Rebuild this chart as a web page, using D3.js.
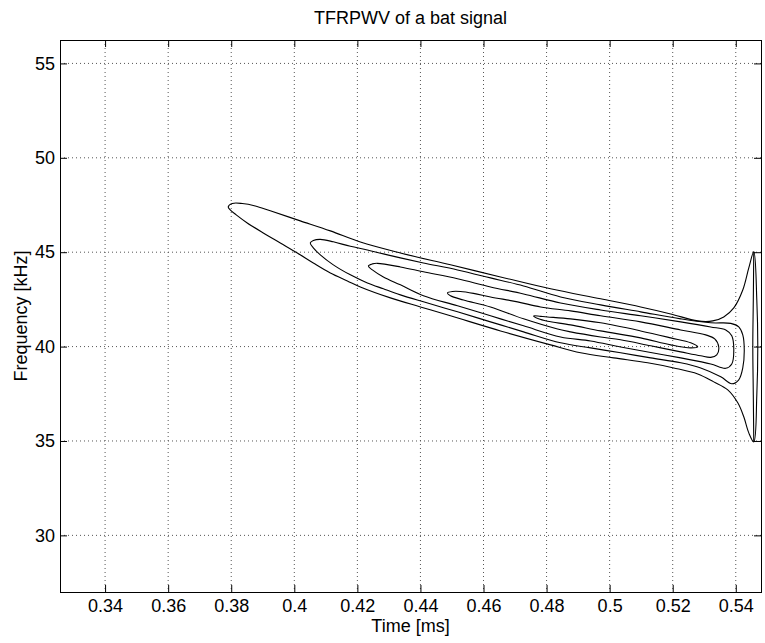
<!DOCTYPE html>
<html>
<head>
<meta charset="utf-8">
<script src="https://cdn.jsdelivr.net/npm/d3@7"></script>
<style>
  body { margin: 0; background: #fff; }
  svg { font-family: "Liberation Sans", Arial, sans-serif; }
  .grid line { stroke: #555; stroke-width: 1; stroke-dasharray: 1,3; }
  .axis text { font-size: 18px; fill: #000; }
  .axis line { stroke: #000; }
  .contour { fill: none; stroke: #000; stroke-width: 1.1; }
</style>
</head>
<body>
<svg id="chart" width="765" height="643"></svg>
<script>
// tick values
var xTicks = [0.34, 0.36, 0.38, 0.4, 0.42, 0.44, 0.46, 0.48, 0.5, 0.52, 0.54];
var yTicks = [30, 35, 40, 45, 50, 55];

// contour lines, [time ms, frequency kHz]
var contourA = [
    [0.37905, 47.40],
    [0.38032, 47.58], [0.38349, 47.58], [0.38762, 47.45], [0.39238, 47.19], [0.40190, 46.66],
    [0.41143, 46.13], [0.42095, 45.54], [0.43365, 44.96], [0.44952, 44.33], [0.46540, 43.69],
    [0.48127, 43.06], [0.49714, 42.53], [0.50984, 42.10], [0.51937, 41.73], [0.52794, 41.36],
    [0.53270, 41.36], [0.53619, 41.57], [0.53937, 42.05], [0.54222, 43.00], [0.54413, 44.17],
    [0.54571, 45.02],
    [0.54667, 42.47], [0.54698, 40.04], [0.54667, 37.44], [0.54571, 34.95],
    [0.54413, 35.43], [0.54254, 36.28], [0.54064, 37.02], [0.53746, 37.71], [0.53302, 38.13],
    [0.52794, 38.55], [0.52032, 38.87], [0.51206, 39.14], [0.50127, 39.40], [0.49079, 39.67],
    [0.48127, 40.09], [0.46540, 40.83], [0.44952, 41.63], [0.44000, 42.10], [0.43048, 42.58],
    [0.42095, 43.16], [0.41683, 43.48], [0.41143, 43.90], [0.40603, 44.43], [0.40095, 44.96],
    [0.39556, 45.49], [0.39016, 46.02], [0.38508, 46.55], [0.38159, 46.98], [0.37968, 47.24]
];
var contourB = [
    [0.40508, 45.49],
    [0.40603, 45.62], [0.40825, 45.68], [0.41238, 45.55], [0.41778, 45.31], [0.42318, 45.12],
    [0.42825, 44.91], [0.43365, 44.70], [0.44095, 44.43], [0.45175, 44.06], [0.46222, 43.64],
    [0.47270, 43.21], [0.48444, 42.63], [0.49714, 42.21], [0.50984, 41.84], [0.52254, 41.47],
    [0.53206, 41.26], [0.53841, 41.23], [0.54095, 41.04], [0.54222, 40.62], [0.54269, 39.83],
    [0.54222, 38.87], [0.54095, 38.24], [0.53873, 38.03], [0.53524, 38.40], [0.52889, 38.87],
    [0.52254, 39.14], [0.51302, 39.40], [0.50349, 39.67], [0.49397, 39.93], [0.48444, 40.20],
    [0.47270, 40.78], [0.46222, 41.31], [0.45175, 41.84], [0.44095, 42.37], [0.43365, 42.74],
    [0.42825, 43.06], [0.42318, 43.37], [0.41778, 43.80], [0.41238, 44.33], [0.40825, 44.86],
    [0.40603, 45.23]
];
var contourC = [
    [0.42349, 44.27],
    [0.42476, 44.38], [0.42635, 44.41], [0.43365, 44.22], [0.44095, 43.96], [0.45175, 43.59],
    [0.46222, 43.16], [0.47270, 42.79], [0.48444, 42.31], [0.49714, 41.94], [0.50984, 41.63],
    [0.52254, 41.31], [0.53206, 41.04], [0.53683, 40.88], [0.53873, 40.57], [0.53937, 39.83],
    [0.53873, 39.08], [0.53683, 38.85], [0.53206, 39.08], [0.52254, 39.40], [0.51302, 39.69],
    [0.50349, 39.98], [0.49397, 40.30], [0.48444, 40.51], [0.47270, 41.10], [0.46222, 41.63],
    [0.45175, 42.16], [0.44095, 42.69], [0.43365, 43.27], [0.42825, 43.69], [0.42476, 44.06]
];
var contourD = [
    [0.44857, 42.84],
    [0.45016, 42.92], [0.45270, 42.92], [0.45683, 42.82], [0.46222, 42.63], [0.47079, 42.37],
    [0.47810, 42.10], [0.48762, 41.89], [0.49714, 41.63], [0.50984, 41.31], [0.52254, 40.88],
    [0.53048, 40.62], [0.53333, 40.41], [0.53460, 39.98], [0.53397, 39.56], [0.53206, 39.43],
    [0.52889, 39.51], [0.52254, 39.72], [0.51302, 40.04], [0.50349, 40.36], [0.49714, 40.51],
    [0.48762, 40.78], [0.48349, 40.93], [0.47270, 41.47], [0.46222, 42.10], [0.45365, 42.47],
    [0.44952, 42.69]
];
var contourE = [
    [0.47587, 41.63],
    [0.47810, 41.60], [0.48032, 41.57], [0.48762, 41.47], [0.49714, 41.26], [0.50984, 40.83],
    [0.51937, 40.46], [0.52571, 40.20], [0.52794, 39.98], [0.52571, 39.93], [0.51937, 40.09],
    [0.50984, 40.46], [0.49714, 40.83], [0.48762, 41.15], [0.48032, 41.34], [0.47746, 41.47]
];
var lensLine = [[0.54571, 45.02], [0.54556, 42.47], [0.54540, 40.04], [0.54556, 37.44], [0.54571, 34.95]];

var margin = {top: 40, right: 4, bottom: 51, left: 60},
    width = 765 - margin.left - margin.right,
    height = 643 - margin.top - margin.bottom;

var x = d3.scaleLinear()
    .domain([0.3257, 0.548])
    .range([0, width]);

var y = d3.scaleLinear()
    .domain([27.0, 56.24])
    .range([height, 0]);

var svg = d3.select('#chart');

var main = svg.append('g')
    .attr('transform', 'translate(' + margin.left + ',' + margin.top + ')');

// dotted grid
var grid = main.append('g').attr('class', 'grid');
grid.selectAll('line.gx')
    .data(xTicks)
    .enter().append('line')
    .attr('x1', function (d) { return x(d); })
    .attr('x2', function (d) { return x(d); })
    .attr('y1', 0)
    .attr('y2', height);
grid.selectAll('line.gy')
    .data(yTicks)
    .enter().append('line')
    .attr('class', 'gy')
    .attr('x1', 0)
    .attr('x2', width)
    .attr('y1', function (d) { return y(d); })
    .attr('y2', function (d) { return y(d); });

// contours
var line = d3.line()
    .x(function (d) { return x(d[0]); })
    .y(function (d) { return y(d[1]); })
    .curve(d3.curveCatmullRomClosed.alpha(0.5));

var openLine = d3.line()
    .x(function (d) { return x(d[0]); })
    .y(function (d) { return y(d[1]); })
    .curve(d3.curveCatmullRom.alpha(0.5));

main.selectAll('path.contour')
    .data([contourA, contourB, contourC, contourD, contourE])
    .enter().append('path')
    .attr('class', 'contour')
    .attr('d', line);

main.append('path')
    .datum(lensLine)
    .attr('class', 'contour')
    .attr('d', openLine);

// axes, ticks inward on all sides
var fmt = d3.format('~g');

main.append('g')
    .attr('class', 'axis')
    .attr('transform', 'translate(0,' + height + ')')
    .call(d3.axisBottom(x).tickValues(xTicks).tickFormat(fmt).tickSize(-7).tickSizeOuter(0).tickPadding(7))
    .call(function (g) { g.select('.domain').remove(); });

main.append('g')
    .attr('class', 'axis')
    .call(d3.axisTop(x).tickValues(xTicks).tickFormat('').tickSize(-7).tickSizeOuter(0))
    .call(function (g) { g.select('.domain').remove(); });

main.append('g')
    .attr('class', 'axis')
    .call(d3.axisLeft(y).tickValues(yTicks).tickFormat(fmt).tickSize(-7).tickSizeOuter(0).tickPadding(5))
    .call(function (g) { g.select('.domain').remove(); });

main.append('g')
    .attr('class', 'axis')
    .attr('transform', 'translate(' + width + ',0)')
    .call(d3.axisRight(y).tickValues(yTicks).tickFormat('').tickSize(-7).tickSizeOuter(0))
    .call(function (g) { g.select('.domain').remove(); });

main.append('rect')
    .attr('x', 0.5)
    .attr('y', 0.5)
    .attr('width', width)
    .attr('height', height)
    .attr('fill', 'none')
    .attr('stroke', '#000');

// labels
svg.append('text')
    .attr('x', margin.left + width / 2)
    .attr('y', 24)
    .attr('text-anchor', 'middle')
    .style('font-size', '18px')
    .text('TFRPWV of a bat signal');

svg.append('text')
    .attr('x', margin.left + width / 2)
    .attr('y', 632)
    .attr('text-anchor', 'middle')
    .style('font-size', '18px')
    .text('Time [ms]');

svg.append('text')
    .attr('transform', 'translate(27,' + (margin.top + height / 2) + ') rotate(-90)')
    .attr('text-anchor', 'middle')
    .style('font-size', '18px')
    .text('Frequency [kHz]');
</script>
</body>
</html>
